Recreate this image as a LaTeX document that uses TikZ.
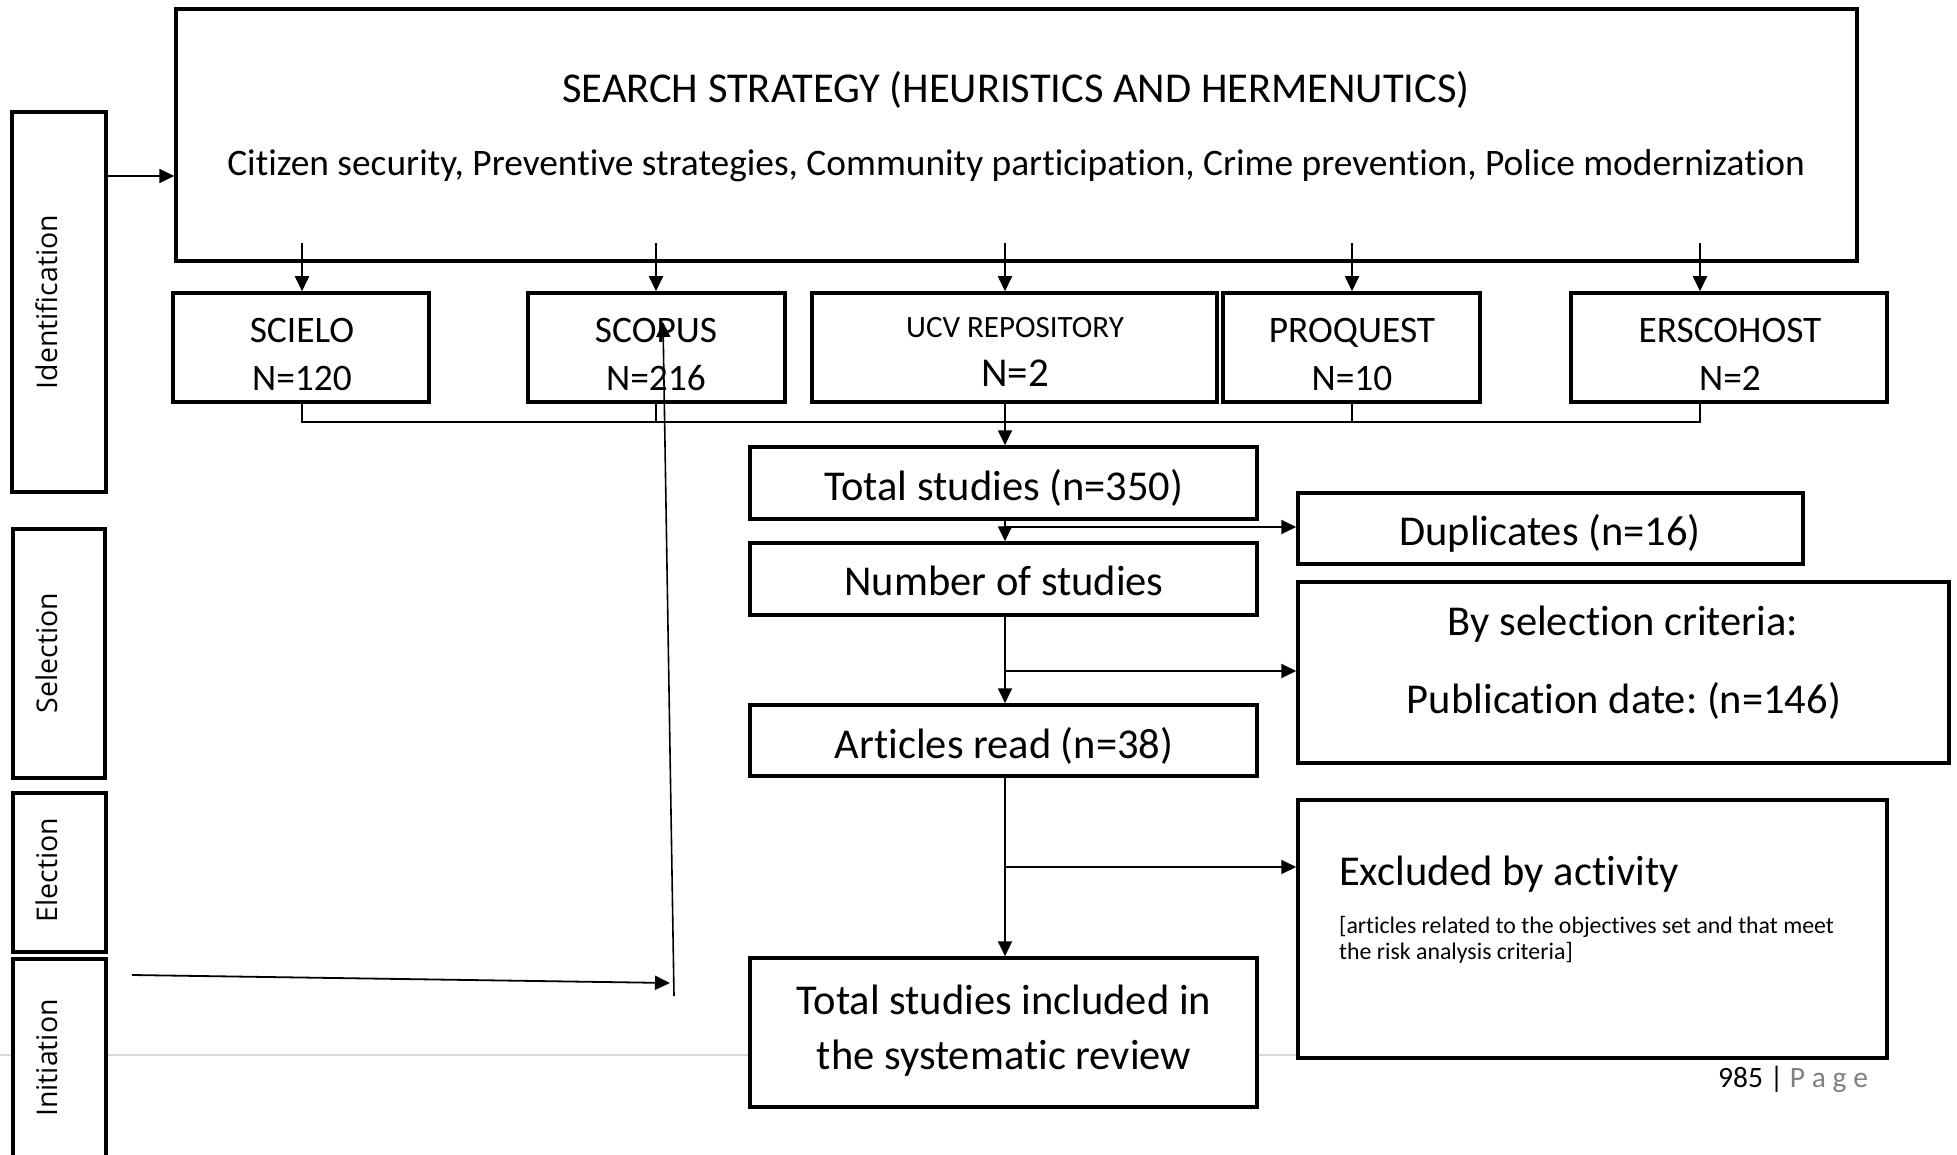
\documentclass[tikz,border=0pt]{standalone}
\usepackage{fontspec}
\setmainfont{Carlito}[Ligatures=NoCommon]
\newfontfamily\labfont{Open Sans}
\usetikzlibrary{arrows.meta}
\definecolor{footgray}{HTML}{7F7F7F}
\definecolor{linegray}{HTML}{D9D9D9}
\frenchspacing
\begin{document}
\begin{tikzpicture}[x=1pt,y=-1pt,
  box/.style={draw, line width=3.5pt, fill=white, inner sep=0pt},
  conn/.style={line width=1.8pt},
  arr/.style={conn,-{Triangle[length=15pt,width=14pt]}},
  txt/.style={inner sep=0pt, anchor=base},
  lab/.style={inner sep=0pt, rotate=90, font=\labfont\fontsize{28.5}{34}\selectfont},
  big/.style={font=\fontsize{42.5}{50}\selectfont},
  mid/.style={font=\fontsize{37.4}{44}\selectfont},
  small/.style={font=\fontsize{23.8}{28}\selectfont},
]
\useasboundingbox (0,0) rectangle (1957,1155);
\clip (0,0) rectangle (1957,1155);
% footer rule
\draw[line width=1.5pt, linegray] (0,1055) -- (1750,1055);

% side phase boxes
\node[box, minimum width=94, minimum height=380] (ident) at (59,302) {};
\node[box, minimum width=92, minimum height=249] (selb) at (59,653.5) {};
\node[box, minimum width=93, minimum height=159] (elecb) at (59.5,872.5) {};
\node[box, minimum width=93, minimum height=240] (initb) at (59.5,1079) {};
\node[lab] (identl) at (47,302) {Identification};
\node[lab] (sell) at (47,653) {Selection};
\node[lab] (elecl) at (47,870) {Election};
\node[lab] (initl) at (47,1058) {Initiation};

% search strategy
\node[box, minimum width=1681, minimum height=252] (search) at (1016.5,135) {};
\node[txt, big] (title) at (1016,103) {SEARCH STRATEGY (HEURISTICS AND HERMENUTICS)};
\node[txt, mid] (kw) at (1016,175.5) {Citizen security, Preventive strategies, Community participation, Crime prevention, Police modernization};

% databases
\node[box, minimum width=256, minimum height=109] (scielo) at (301,347.5) {};
\node[box, minimum width=257, minimum height=109] (scopus) at (656.5,347.5) {};
\node[box, minimum width=405, minimum height=109] (ucv) at (1014.5,347.5) {};
\node[box, minimum width=257, minimum height=109] (proq) at (1351.5,347.5) {};
\node[box, minimum width=316, minimum height=109] (ersco) at (1729,347.5) {};
\node[txt, mid] (t1a) at (302,342.5) {SCIELO};
\node[txt, mid] (t1b) at (302,390.5) {N=120};
\node[txt, mid] (t2a) at (656,342.5) {SCOPUS};
\node[txt, mid] (t2b) at (656,390.5) {N=216};
\node[txt, font=\fontsize{31}{36}\selectfont] (t3a) at (1015,337.5) {UCV REPOSITORY};
\node[txt, font=\fontsize{41}{48}\selectfont] (t3b) at (1015,387) {N=2};
\node[txt, mid] (t4a) at (1352,342.5) {PROQUEST};
\node[txt, mid] (t4b) at (1352,390.5) {N=10};
\node[txt, mid] (t5a) at (1730,342.5) {ERSCOHOST};
\node[txt, mid] (t5b) at (1730,390.5) {N=2};

% flow boxes
\node[box, minimum width=507, minimum height=72] (total) at (1003.5,483) {};
\node[box, minimum width=507, minimum height=72] (number) at (1003.5,579) {};
\node[box, minimum width=507, minimum height=71] (articles) at (1003.5,740.5) {};
\node[box, minimum width=507, minimum height=149] (included) at (1003.5,1032.5) {};
\node[box, minimum width=505, minimum height=71] (dup) at (1550.5,528.5) {};
\node[box, minimum width=651, minimum height=181] (bysel) at (1623.5,672.5) {};
\node[box, minimum width=589, minimum height=258] (excl) at (1592.5,929) {};

\node[txt, big] (tt) at (1004,500.5) {Total studies (n=350)};
\node[txt, big] (tn) at (1004,595.5) {Number of studies};
\node[txt, big] (ta) at (1004,758) {Articles read (n=38)};
\node[txt, big] (ti1) at (1004,1014.5) {Total studies included in};
\node[txt, big] (ti2) at (1004,1069.5) {the systematic review};
\node[txt, big] (td) at (1550,545.5) {Duplicates (n=16)};
\node[txt, big] (ts1) at (1623,635) {By selection criteria:};
\node[txt, big] (ts2) at (1624,713) {Publication date: (n=146)};
\node[txt, big, anchor=base west] (te) at (1339,885.5) {Excluded by activity};
\node[txt, small, anchor=base west] (te1) at (1339,933.5) {[articles related to the objectives set and that meet};
\node[txt, small, anchor=base west] (te2) at (1339,959.5) {the risk analysis criteria]};

% footer
\node[txt, anchor=base west, font=\fontsize{29.5}{34}\selectfont] (page) at (1718,1087) {985 | \textcolor{footgray}{P a g e}};

% connectors: search -> databases
\foreach \n/\x in {scielo/302, scopus/656, ucv/1005, proq/1352, ersco/1700} {
  \coordinate (s-\n) at (\x,243);
  \draw[arr] (s-\n) -- (\n.north -| s-\n);
}
% bus
\coordinate (b1) at (302,422);
\coordinate (b2) at (656,422);
\coordinate (b3) at (1005,422);
\coordinate (b4) at (1352,422);
\coordinate (b5) at (1700,422);
\draw[conn] (scielo.south -| b1) -- (b1) -- (b5) -- (ersco.south -| b5);
\draw[conn] (scopus.south -| b2) -- (b2);
\draw[conn] (proq.south -| b4) -- (b4);
\draw[arr] (ucv.south -| b3) -- (total.north -| b3);

% trunk
\draw[arr] (total.south -| b3) -- (number.north -| b3);
\coordinate (j1) at (1005,527);
\draw[arr] (j1) -- (dup.west |- j1);
\draw[arr] (number.south -| b3) -- (articles.north -| b3);
\coordinate (j2) at (1005,671);
\draw[arr] (j2) -- (bysel.west |- j2);
\draw[arr] (articles.south -| b3) -- (included.north -| b3);
\coordinate (j3) at (1005,867);
\draw[arr] (j3) -- (excl.west |- j3);

% identification -> search
\coordinate (ia) at (106,176);
\draw[arr] (ident.east |- ia) -- (search.west |- ia);

% stray arrows
\coordinate (i1) at (132,975);
\coordinate (i2) at (670,983);
\draw[arr] (i1) -- (i2);
\coordinate (v1) at (674,996);
\coordinate (v2) at (663,322);
\draw[arr, line width=1.6pt] (v1) -- (v2);
\end{tikzpicture}
\end{document}
